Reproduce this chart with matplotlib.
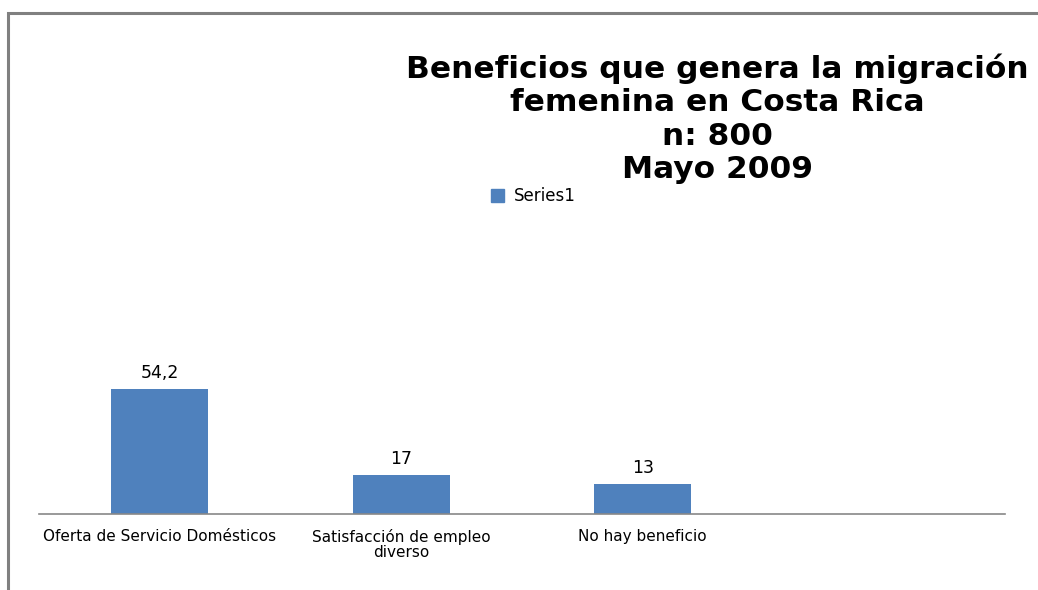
import matplotlib.pyplot as plt
from matplotlib.patches import Rectangle, Patch

# datos
categorias = ['Oferta de Servicio Domésticos', 'Satisfacción de empleo\ndiverso', 'No hay beneficio', '']
valores = [54.2, 17, 13, 0]
etiquetas = ['54,2', '17', '13', '']

color_barra = '#4f81bd'
fuente = 'DejaVu Sans'

fig = plt.figure(figsize=(10.38, 5.90), dpi=100)
ax = fig.add_axes([39 / 1038, 76 / 590, 966 / 1038, 314 / 590])

x = range(len(categorias))
bars = ax.bar(x[:3], valores[:3], width=0.4, color=color_barra)
ax.set_xlim(-0.5, 3.5)
ax.set_ylim(0, 136.5)

for xi, v, t in zip(x[:3], valores[:3], etiquetas[:3]):
    ax.annotate(t, (xi, v), xytext=(0, 5), textcoords='offset points',
                ha='center', va='bottom', fontsize=12.5, family=fuente)

ax.set_xticks(list(x[:3]))
ax.set_xticklabels(categorias[:3], fontsize=11, family=fuente, linespacing=0.95)
ax.tick_params(axis='x', length=0, pad=11)
ax.set_yticks([])
for s in ['top', 'right', 'left']:
    ax.spines[s].set_visible(False)
ax.spines['bottom'].set_color('#888888')
ax.spines['bottom'].set_linewidth(1.2)

# título
fig.text(717 / 1038, 1 - 53 / 590,
         'Beneficios que genera la migración\nfemenina en Costa Rica\nn: 800\nMayo 2009',
         ha='center', va='top', fontsize=22.5, fontweight='bold', family=fuente,
         linespacing=1.2)

# leyenda
fig.legend(handles=[Patch(color=color_barra, label='Series1')],
           loc='center left', bbox_to_anchor=(476 / 1038, 1 - 196 / 590),
           frameon=False, handlelength=0.8, handleheight=0.8,
           handletextpad=0.6, prop={'family': fuente, 'size': 12})

# borde
fig.add_artist(Rectangle((8 / 1038, -0.1), 1.2, 1.1 - 13 / 590, transform=fig.transFigure,
                         fill=False, edgecolor='#808080', linewidth=2.2))

plt.savefig('out.png', dpi=100)
